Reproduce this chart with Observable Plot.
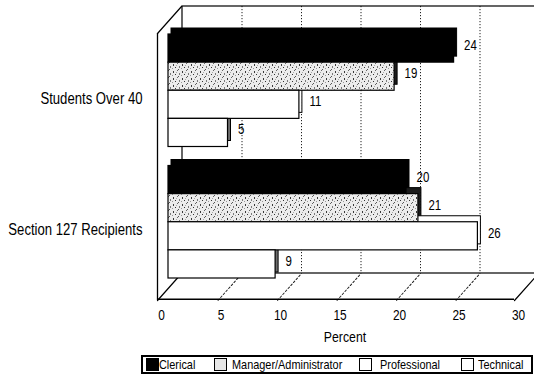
<!DOCTYPE html>
<html>
<head>
<meta charset="utf-8">
<script src="https://cdn.jsdelivr.net/npm/d3@7"></script>
<script src="https://cdn.jsdelivr.net/npm/@observablehq/plot@0.6"></script>
<style>
  html, body { margin: 0; padding: 0; background: #fff; overflow: hidden; }
  body { width: 534px; height: 378px; position: relative;
         font-family: "Liberation Sans", Arial, sans-serif; color: #000; }
  #chart svg { display: block; }
  #legend { position: absolute; left: 141px; top: 355px; width: 388px; height: 15px;
            border: 2px solid #000; font-size: 13.3px; line-height: 15px; }
  #legend .sw { position: absolute; top: 1px; width: 11px; height: 11px; border: 1.5px solid #000; }
  #legend .lb { position: absolute; top: 0; white-space: nowrap;
                transform: scaleX(0.82); transform-origin: 0 50%; }
</style>
</head>
<body>
<svg width="0" height="0" style="position:absolute">
  <defs>
    <pattern id="speckle" width="9" height="7" patternUnits="userSpaceOnUse">
      <rect width="9" height="7" fill="#ececec"/>
      <rect x="1" y="1" width="1" height="2" fill="#3a3a3a"/>
      <rect x="5" y="0" width="1" height="1" fill="#666"/>
      <rect x="3" y="4" width="1" height="1" fill="#333"/>
      <rect x="7" y="3" width="1" height="2" fill="#7a7a7a"/>
      <rect x="6" y="6" width="1" height="1" fill="#555"/>
      <rect x="0" y="5" width="1" height="1" fill="#999"/>
      <rect x="4" y="2" width="1" height="1" fill="#aaa"/>
    </pattern>
  </defs>
</svg>
<div id="chart"></div>
<div id="legend"></div>
<script>
// Share of each occupational group, by program
const groups = ["Students Over 40", "Section 127 Recipients"];
const series = ["Clerical", "Manager/Administrator", "Professional", "Technical"];
const studentsOver40 = [24, 19, 11, 5];
const section127Recipients = [20, 21, 26, 9];
const xTicks = [0, 5, 10, 15, 20, 25, 30];
const xLabel = "Percent";

const rows = [];
groups.forEach((g, gi) => {
  const vals = gi === 0 ? studentsOver40 : section127Recipients;
  series.forEach((s, si) => rows.push({group: g, series: s, value: vals[si]}));
});

// Styling for the pseudo-3D bars
const frontFill = ["#000", "url(#speckle)", "#fff", "#fff"];
const sideFill = ["#000", "#1a1a1a", "#fff", "#6d6d6d"];
const narrow = 0.82;   // horizontal squeeze giving a condensed typeface

// Layout
const W = 534, H = 350;
const M = {top: 33, right: 19, bottom: 50, left: 158};
const frameH = H - M.top - M.bottom;
const depth = {dx: 24, dy: -27};          // offset from front plane to back wall
const barShift = 10;                      // bars sit slightly behind the front plane
const extrude = {dx: 3, dy: -6};          // thickness of each bar
const yRange = [34, 278], gap = 19;
const band = (yRange[1] - yRange[0] - gap) / 2;
const slot = band / series.length;
const depthLen = Math.hypot(depth.dx, depth.dy);
const depthAngle = Math.atan2(depth.dx, -depth.dy) * 180 / Math.PI;
const segment = {draw(context, l) { context.moveTo(0, 0); context.lineTo(0, -l); }};

const marks = [
  // back wall and its dotted gridlines
  Plot.ruleX(xTicks.filter(v => v > 0), {dx: depth.dx, dy: depth.dy, stroke: "#222", strokeWidth: 1, strokeDasharray: "1.2,1.8"}),
  Plot.rect([0], {x1: 0, x2: 30, dx: depth.dx, dy: depth.dy, fill: "none", stroke: "#000", strokeWidth: 1.2}),
  // left wall
  Plot.ruleX([0], {dx: -1, stroke: "#000", strokeWidth: 1.3}),
  Plot.vector([0], {x: d => d, frameAnchor: "top", dx: -1, length: depthLen, rotate: depthAngle, anchor: "start", shape: segment, stroke: "#000", strokeWidth: 1.2}),
  // floor
  Plot.vector(xTicks.filter(v => v > 0 && v < 30), {x: d => d, frameAnchor: "bottom", length: depthLen, rotate: depthAngle, anchor: "start", shape: segment, stroke: "#222", strokeWidth: 1, strokeDasharray: "2,2"}),
  Plot.vector([0, 30], {x: d => d, frameAnchor: "bottom", dx: -1, length: depthLen, rotate: depthAngle, anchor: "start", shape: segment, stroke: "#000", strokeWidth: 1.2}),
  Plot.rect([0], {x1: 0, x2: 30, dx: -1, insetTop: frameH - 1.5, fill: "#000"})
];

// bar extrusions (top and side faces) first, then the front faces
series.forEach((s, si) => {
  marks.push(Plot.barX(rows.filter(d => d.series === s), {
    x: "value", y: "group",
    insetTop: si * slot, insetBottom: (series.length - 1 - si) * slot,
    dx: barShift + extrude.dx, dy: extrude.dy,
    fill: sideFill[si], stroke: "#000", strokeWidth: 1
  }));
});
series.forEach((s, si) => {
  marks.push(Plot.barX(rows.filter(d => d.series === s), {
    x: "value", y: "group",
    insetTop: si * slot, insetBottom: (series.length - 1 - si) * slot,
    dx: barShift, fill: frontFill[si], stroke: "#000", strokeWidth: 1.2
  }));
  marks.push(Plot.text(rows.filter(d => d.series === s), {
    x: "value", y: "group", text: d => String(d.value),
    dx: 20, dy: (si - (series.length - 1) / 2) * slot - 3,
    textAnchor: "start", fontSize: 14, fill: "#000"
  }));
});

// category labels, tick labels and axis title
marks.push(
  Plot.text(groups, {x: 0, y: d => d, text: d => d, textAnchor: "end", dx: -16, dy: 8, fontSize: 16, fill: "#000"}),
  Plot.text(xTicks, {x: d => d, text: d => String(d), frameAnchor: "bottom", dx: 3, dy: 19, fontSize: 14.5, fill: "#000"}),
  Plot.text([xLabel], {x: 15, text: d => d, frameAnchor: "bottom", dx: 8, dy: 41, fontSize: 15, fill: "#000"})
);

const chart = Plot.plot({
  width: W, height: H,
  marginTop: M.top, marginRight: M.right, marginBottom: M.bottom, marginLeft: M.left,
  style: {fontFamily: '"Liberation Sans", Arial, sans-serif', background: "#fff", color: "#000"},
  x: {domain: [0, 30], axis: null},
  y: {domain: groups, range: yRange, paddingInner: gap / (band + gap), paddingOuter: 0, round: false, axis: null},
  marks
});

// squeeze every label horizontally about its own anchor point
d3.select(chart).selectAll("text").each(function() {
  const t = this.getAttribute("transform") || "";
  this.setAttribute("transform", `${t} scale(${narrow},1)`);
});
document.getElementById("chart").appendChild(chart);

// legend
const swatchLeft = [3, 71, 216, 318];
const labelLeft = [16, 89, 237, 335];
const legend = d3.select("#legend");
series.forEach((s, si) => {
  const sw = legend.append("div").attr("class", "sw").style("left", swatchLeft[si] + "px");
  sw.style("background", si === 1 ? "#e6e6e6" : frontFill[si]);
  legend.append("div").attr("class", "lb").style("left", labelLeft[si] + "px").text(s);
});
</script>
</body>
</html>
